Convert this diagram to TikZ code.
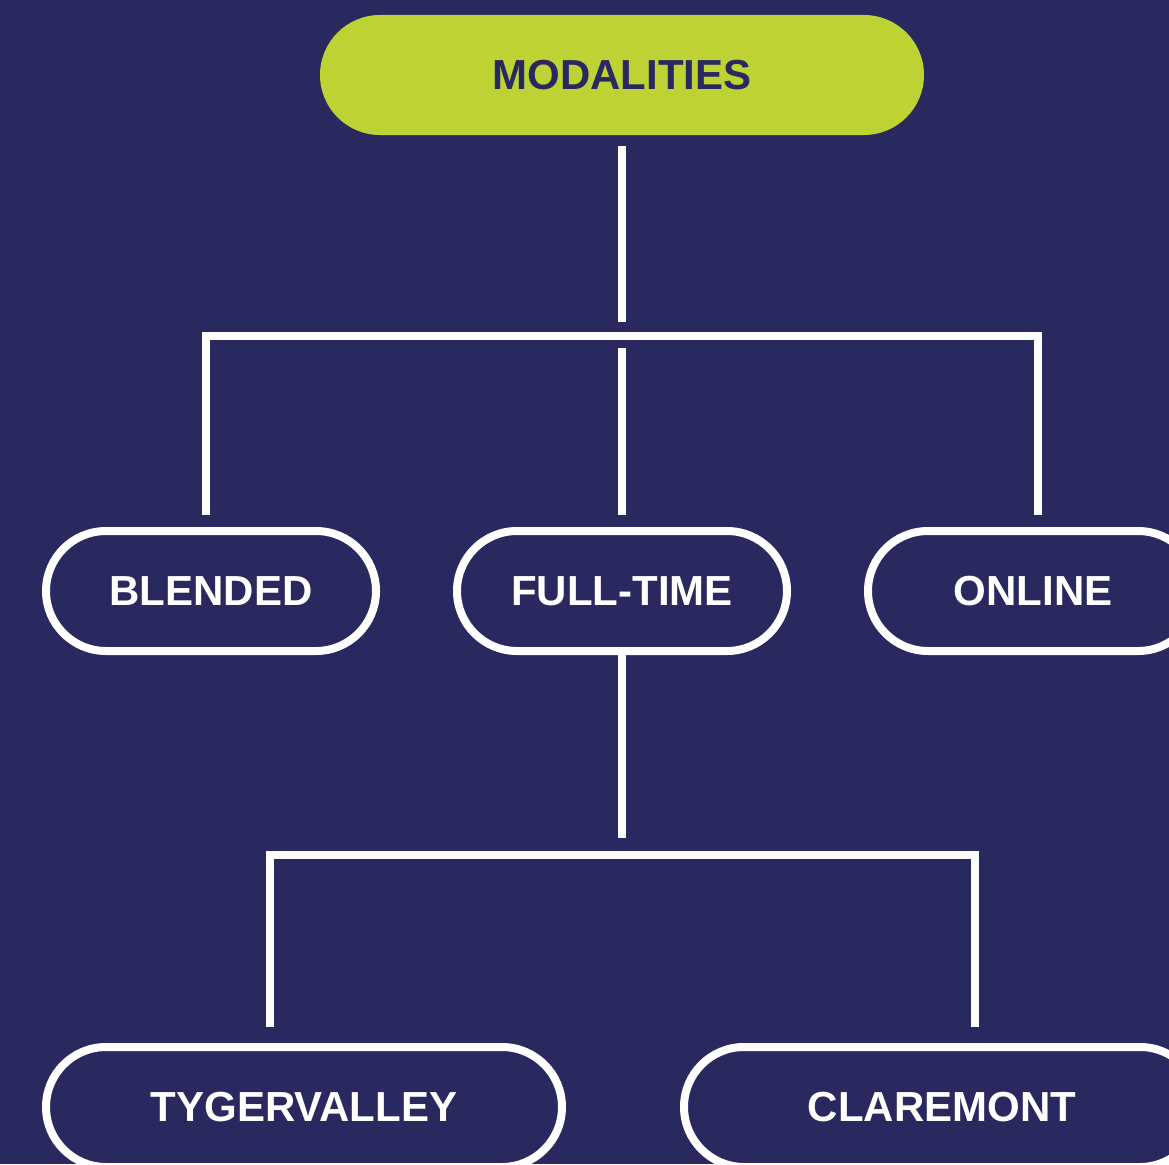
\documentclass[tikz,border=0pt]{standalone}
\usepackage{fontspec}
\setmainfont{Liberation Sans}
\definecolor{navy}{HTML}{29295F}
\definecolor{lime}{HTML}{BDD333}
\begin{document}
\begin{tikzpicture}[x=1pt,y=-1pt,
  pill/.style={rectangle, rounded corners=60pt, minimum height=120pt, inner sep=0pt,
    font=\fontsize{42}{48}\selectfont\bfseries},
  outlinepill/.style={pill, draw=white, line width=8pt, text=white, fill=navy},
  conn/.style={draw=white, line width=8pt}]
\useasboundingbox (0,0) rectangle (1169,1164);
\clip (0,0) rectangle (1169,1164);
\fill[navy] (0,0) rectangle (1169,1164);
% nodes
\node[pill, fill=lime, text=navy, minimum width=604pt] (mod) at (622,75) {MODALITIES};
\node[outlinepill, minimum width=330pt] (blended) at (211,591) {BLENDED};
\node[outlinepill, minimum width=330pt] (fulltime) at (622,591) {FULL-TIME};
\node[outlinepill, minimum width=330pt] (online) at (1033,591) {ONLINE};
\node[outlinepill, minimum width=516pt] (tyger) at (304,1107) {TYGERVALLEY};
\node[outlinepill, minimum width=516pt] (clare) at (942,1107) {CLAREMONT};
% junctions
\coordinate (j1) at (622,335.5);
\coordinate (bl) at (206.3,335.5);
\coordinate (br) at (1038,335.5);
\coordinate (j2) at (622,854.5);
\coordinate (tl) at (269.5,854.5);
\coordinate (tr) at (975,854.5);
% connectors
\draw[conn, shorten <=11pt, shorten >=13.5pt] (mod) -- (j1);
\draw[conn] ([yshift=12pt]bl |- blended.north) -- (bl) -- (br) -- ([yshift=12pt]br |- online.north);
\draw[conn, shorten <=12.5pt, shorten >=12pt] (j1) -- (fulltime);
\draw[conn, shorten >=16.5pt] (fulltime) -- (j2);
\draw[conn] ([yshift=16pt]tl |- tyger.north) -- (tl) -- (tr) -- ([yshift=16pt]tr |- clare.north);
\end{tikzpicture}
\end{document}
